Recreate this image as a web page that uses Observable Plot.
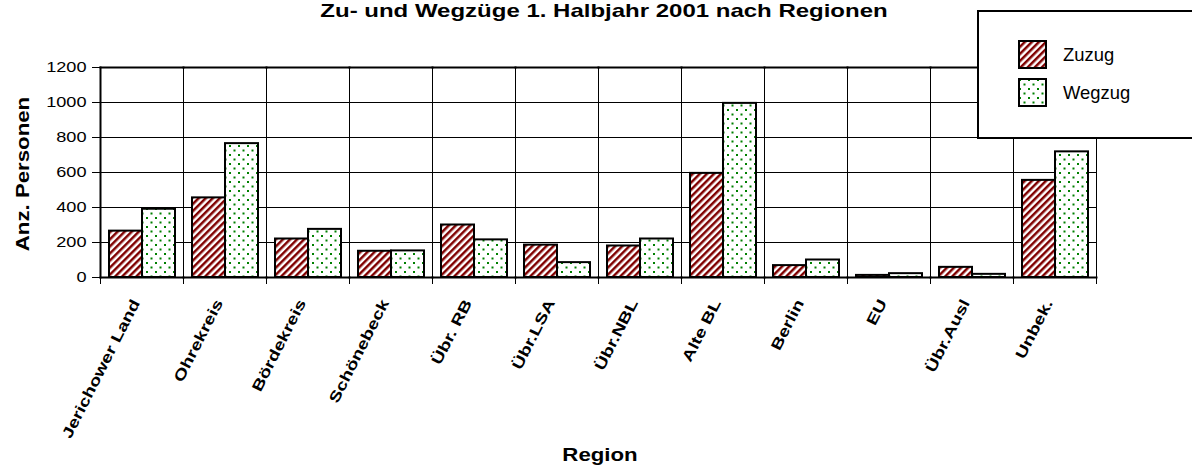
<!DOCTYPE html>
<html>
<head>
<meta charset="utf-8">
<script src="https://cdn.jsdelivr.net/npm/d3@7"></script>
<script src="https://cdn.jsdelivr.net/npm/@observablehq/plot@0.6"></script>
<style>
  html, body { margin: 0; padding: 0; background: #fff; overflow: hidden; }
  #wrap { position: relative; width: 1192px; height: 467px; overflow: hidden;
          font-family: "Liberation Sans", Arial, sans-serif; color: #000; }
  #wrap > svg.plot { position: absolute; left: 0; top: 0; }
  .anchor { position: absolute; width: 0; height: 0; transform-origin: 0 0; }
  .anchor > span { position: absolute; left: 0; top: 0; white-space: nowrap; line-height: 1; transform-origin: 50% 50%; }
</style>
</head>
<body>
<svg width="0" height="0" style="position:absolute">
  <defs>
    <pattern id="pZuzug" patternUnits="userSpaceOnUse" width="5" height="5" patternTransform="rotate(45)">
      <rect width="5" height="5" fill="#ffffff"></rect>
      <rect width="2.5" height="5" fill="#800000"></rect>
    </pattern>
    <pattern id="pWegzug" patternUnits="userSpaceOnUse" width="9" height="9">
      <rect width="9" height="9" fill="#ffffff"></rect>
      <rect x="1" y="1" width="2" height="2" fill="#008000"></rect>
      <rect x="5.5" y="5.5" width="2" height="2" fill="#008000"></rect>
    </pattern>
  </defs>
</svg>
<div id="wrap"></div>
<script>
// ---- data ----
const regions = ["Jerichower Land", "Ohrekreis", "Bördekreis", "Schönebeck", "Übr. RB", "Übr.LSA",
                 "Übr.NBL", "Alte BL", "Berlin", "EU", "Übr.Ausl", "Unbek."];
const series = ["Zuzug", "Wegzug"];
const zuzug  = [265, 455, 220, 150, 300, 185, 180, 595, 68, 12, 58, 555];
const wegzug = [390, 765, 275, 152, 215, 85, 220, 995, 100, 22, 18, 718];
const yTicks = [0, 200, 400, 600, 800, 1000, 1200];
const titleText = "Zu- und Wegzüge 1. Halbjahr 2001 nach Regionen";
const yLabel = "Anz. Personen";
const xLabel = "Region";
const patterns = ["url(#pZuzug)", "url(#pWegzug)"];

const data = regions.flatMap((r, i) => [
  {region: r, series: series[0], value: zuzug[i]},
  {region: r, series: series[1], value: wegzug[i]}
]);

const chart = Plot.plot({
  width: 1192,
  height: 467,
  marginLeft: 99,
  marginRight: 96,
  marginTop: 67,
  marginBottom: 190,
  style: {fontFamily: "'Liberation Sans', Arial, sans-serif", background: "transparent", color: "#000", overflow: "visible"},
  fx: {domain: regions, padding: 0},
  x: {domain: series, paddingInner: 0, paddingOuter: 0.24, axis: null},
  y: {domain: [0, 1200]},
  color: {domain: series, range: patterns},
  marks: [
    Plot.gridY(yTicks, {stroke: "#000", strokeOpacity: 1, strokeWidth: 1}),
    Plot.frame({stroke: "#000", strokeWidth: 1}),
    Plot.frame({anchor: "left", stroke: "#000", strokeWidth: 1, insetBottom: -6}),
    Plot.frame({anchor: "right", stroke: "#000", strokeWidth: 1, insetBottom: -6}),
    Plot.barY(data, {fx: "region", x: "series", y: "value", fill: "series", stroke: "#000", strokeWidth: 2}),
    Plot.frame({anchor: "top", stroke: "#000", strokeWidth: 2}),
    Plot.frame({anchor: "bottom", stroke: "#000", strokeWidth: 2}),
    Plot.frame({anchor: "left", stroke: "#000", strokeWidth: 2, facetAnchor: "left"}),
    Plot.axisY(yTicks, {tickSize: 8, tickPadding: 6, fontSize: 14.5, label: null, tickFormat: (d) => String(d)}),
    Plot.axisFx({anchor: "bottom", tickRotate: -63, tickSize: 0, tickPadding: 23, dx: -6,
                 fontSize: 15, fontWeight: "bold", label: null})
  ]
});
chart.classList.add("plot");
const wrap = document.getElementById("wrap");
wrap.appendChild(chart);

// stretch text along its baseline (reference fonts are horizontally wide)
function stretch(sel, s) {
  sel.each(function () {
    const t = this.getAttribute("transform");
    if (t) this.setAttribute("transform", t + ` scale(${s},1)`);
  });
}
const svg = d3.select(chart);
stretch(svg.selectAll("g[aria-label='y-axis tick label'] text"), 1.25);
stretch(svg.selectAll("g[aria-label='fx-axis tick label'] text"), 1.29);

// ---- overlay texts ----
function place(text, x, y, {size = 14, weight = "normal", sx = 1, rotate = 0, align = "center"} = {}) {
  const a = document.createElement("div");
  a.className = "anchor";
  a.style.left = x + "px";
  a.style.top = y + "px";
  if (rotate) a.style.transform = `rotate(${rotate}deg)`;
  const s = document.createElement("span");
  s.textContent = text;
  s.style.fontSize = size + "px";
  s.style.fontWeight = weight;
  const tx = align === "center" ? "-50%" : "0";
  if (align === "left") s.style.transformOrigin = "0 50%";
  s.style.transform = `translate(${tx},-50%) scaleX(${sx})`;
  a.appendChild(s);
  wrap.appendChild(a);
  return a;
}
place(titleText, 604, 10.5, {size: 18.6, weight: "bold", sx: 1.29});
place(yLabel, 21.5, 174, {size: 19, weight: "bold", sx: 1.17, rotate: -90});
place(xLabel, 600, 454, {size: 19, weight: "bold", sx: 1.17});

// ---- legend ----
const box = document.createElement("div");
Object.assign(box.style, {position: "absolute", left: "977px", top: "10px", width: "260px", height: "125px",
  border: "2px solid #000", background: "#fff"});
wrap.appendChild(box);
series.forEach((name, i) => {
  const top = [40, 78][i];
  const sw = d3.create("svg").attr("width", 29).attr("height", 29)
    .style("position", "absolute").style("left", "1018px").style("top", top + "px");
  sw.append("rect").attr("x", 1).attr("y", 1).attr("width", 27).attr("height", 27)
    .attr("fill", patterns[i]).attr("stroke", "#000").attr("stroke-width", 2);
  wrap.appendChild(sw.node());
  place(name, 1063, top + 15, {size: 18.4, align: "left"});
});
</script>
</body>
</html>
